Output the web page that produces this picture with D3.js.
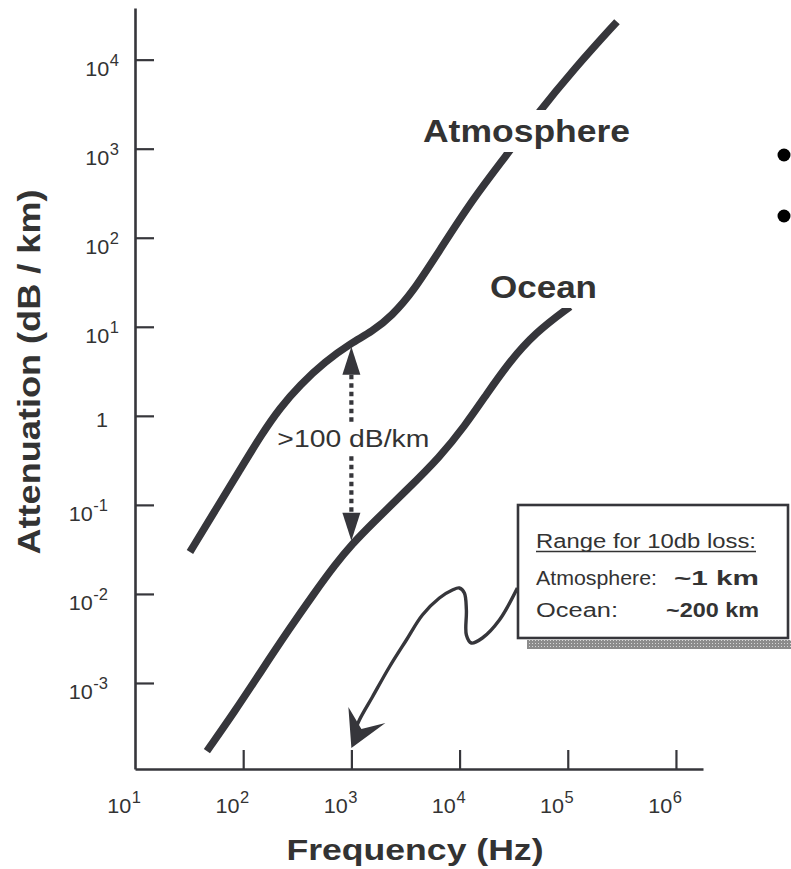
<!DOCTYPE html>
<html>
<head>
<meta charset="utf-8">
<script src="https://cdn.jsdelivr.net/npm/d3@7"></script>
<style>
  html, body { margin: 0; padding: 0; background: #fff; }
  svg { display: block; }
  text { font-family: "Liberation Sans", Arial, Helvetica, sans-serif; fill: #333; }
</style>
</head>
<body>
<svg id="chart" width="791" height="869"></svg>
<script>
// Axis ticks, written as powers of ten
const freqTickExps = [1, 2, 3, 4, 5, 6];
const attenTickExps = [-3, -2, -1, 0, 1, 2, 3, 4];

// Atmosphere: frequency (Hz) and attenuation (dB/km)
const atmosFreq  = [32.2, 54.8, 93.3, 149, 219, 335, 570, 1000, 1550, 2370, 3710, 6590, 13300, 27400, 49800, 117000, 285000];
const atmosAtten = [0.0296, 0.0857, 0.247, 0.628, 1.23, 2.23, 4.05, 6.6, 8.79, 13.3, 24.7, 73.3, 274, 857, 2290, 8130, 26700];

// Ocean: frequency (Hz) and attenuation (dB/km)
const oceanFreq  = [46.2, 84.0, 149, 259, 461, 705, 1000, 1580, 3270, 6590, 11200, 17900, 28000, 49800, 105000];
const oceanAtten = [0.000172, 0.000484, 0.00140, 0.00384, 0.0105, 0.0212, 0.0356, 0.0628, 0.148, 0.346, 0.773, 1.77, 3.84, 8.57, 16.8];

const seriesNames = ["Atmosphere", "Ocean"];
const gapFreq = 1000;
const gapLabel = ">100 dB/km";
const noteTitle = "Range for 10db loss:";
const noteRows = [["Atmosphere:", "~1 km"], ["Ocean:", "~200 km"]];
const xTitle = "Frequency (Hz)";
const yTitle = "Attenuation (dB / km)";

const ink = "#36363b";
const svg = d3.select("#chart");

// Log scales: the frame runs from 10 Hz past 10^6 Hz, and ~10^-4 to ~10^4.6 dB/km
const x = d3.scaleLog().domain([10, Math.pow(10, 6.25)]).range([135, 703]);
const y = d3.scaleLog().domain([Math.pow(10, -3.966), Math.pow(10, 4.58)]).range([769, 8]);
const x0 = x.range()[0], yBase = y.range()[0];

// Shadow pattern for the note box
const defs = svg.append("defs");
const pat = defs.append("pattern").attr("id", "dither").attr("width", 3).attr("height", 3)
  .attr("patternUnits", "userSpaceOnUse");
pat.append("rect").attr("width", 3).attr("height", 3).attr("fill", "#8c8c8c");
pat.append("rect").attr("x", 1).attr("y", 1).attr("width", 1).attr("height", 1).attr("fill", "#d8d8d8");

// Axes with inward ticks
const axisStyle = g => {
  g.select(".domain").attr("stroke", ink).attr("stroke-width", 2.6);
  g.selectAll(".tick line").attr("stroke", ink).attr("stroke-width", 2.2);
};
svg.append("g")
  .attr("transform", `translate(0,${yBase})`)
  .call(d3.axisBottom(x).tickValues(freqTickExps.slice(1).map(e => Math.pow(10, e)))
    .tickSizeInner(-19).tickSizeOuter(0).tickFormat(""))
  .call(axisStyle);
svg.append("g")
  .attr("transform", `translate(${x0},0)`)
  .call(d3.axisLeft(y).tickValues(attenTickExps.map(e => Math.pow(10, e)))
    .tickSizeInner(-19).tickSizeOuter(0).tickFormat(""))
  .call(axisStyle);

// Power-of-ten label with a raised exponent
function powerLabel(g, exp) {
  const t = g.append("text").attr("text-anchor", "end").attr("font-size", 21);
  if (exp === 0) { t.text("1"); return; }
  t.append("tspan").text("10");
  t.append("tspan").attr("font-size", 16).attr("dy", -10).attr("dx", 0.5).text(String(exp));
}

attenTickExps.forEach(e => {
  const ax = e > 0 ? 119 : 108;
  const ay = y(Math.pow(10, e)) + (e === 0 ? 11 : 16);
  const g = svg.append("g").attr("transform", `translate(${ax},${ay}) scale(1.03,1)`);
  powerLabel(g, e);
});
freqTickExps.forEach(e => {
  const g = svg.append("g").attr("transform", `translate(${x(Math.pow(10, e)) + 6},813) scale(1.03,1)`);
  powerLabel(g, e);
});

// Axis titles
svg.append("text")
  .attr("x", 415).attr("y", 860).attr("text-anchor", "middle")
  .attr("font-size", 30).attr("font-weight", "bold")
  .attr("textLength", 257).attr("lengthAdjust", "spacingAndGlyphs")
  .text(xTitle);
svg.append("text")
  .attr("transform", "translate(40,372) rotate(-90)")
  .attr("text-anchor", "middle")
  .attr("font-size", 32).attr("font-weight", "bold")
  .attr("textLength", 365).attr("lengthAdjust", "spacingAndGlyphs")
  .text(yTitle);

// Curves
const line = d3.line().x(d => x(d[0])).y(d => y(d[1])).curve(d3.curveBasis);
const series = [
  { name: seriesNames[0], pts: d3.zip(atmosFreq, atmosAtten) },
  { name: seriesNames[1], pts: d3.zip(oceanFreq, oceanAtten) }
];
svg.append("g").selectAll("path").data(series).join("path")
  .attr("d", d => line(d.pts))
  .attr("fill", "none").attr("stroke", ink).attr("stroke-width", 7.5)
  .attr("stroke-linecap", "butt").attr("stroke-linejoin", "round");

// Curve labels (the Atmosphere label sits on a white patch that breaks the line)
function curveLabel(txt, lx, ly, len) {
  const g = svg.append("g");
  const bg = g.append("rect").attr("fill", "#fff");
  const t = g.append("text").attr("x", lx).attr("y", ly)
    .attr("font-size", 32).attr("font-weight", "bold")
    .attr("textLength", len).attr("lengthAdjust", "spacingAndGlyphs").text(txt);
  const b = t.node().getBBox();
  bg.attr("x", b.x - 2).attr("y", b.y - 3).attr("width", b.width + 4).attr("height", b.height + 6);
}
curveLabel(seriesNames[0], 423, 142, 207);
curveLabel(seriesNames[1], 490, 298, 107);

// Gap arrow between the two curves at 1 kHz
const gi = atmosFreq.indexOf(gapFreq), oi = oceanFreq.indexOf(gapFreq);
const gx = x(gapFreq);
const yTop = y(atmosAtten[gi]) + 4;
const yBot = y(oceanAtten[oi]) - 4;
const headH = 28, headW = 9;
const gapG = svg.append("g").attr("fill", ink);
gapG.append("path").attr("d", `M${gx},${yTop} L${gx + headW},${yTop + headH} L${gx - headW},${yTop + headH} Z`);
gapG.append("path").attr("d", `M${gx},${yBot} L${gx + headW},${yBot - headH} L${gx - headW},${yBot - headH} Z`);
const midY = (yTop + yBot) / 2;
const lbl = svg.append("text").attr("x", gx + 2).attr("y", midY + 3.5)
  .attr("text-anchor", "middle").attr("font-size", 23)
  .attr("textLength", 152).attr("lengthAdjust", "spacingAndGlyphs").text(gapLabel);
const lb = lbl.node().getBBox();
[[yTop + headH, lb.y - 3], [lb.y + lb.height + 4, yBot - headH]].forEach(([a, b]) => {
  gapG.append("line").attr("x1", gx).attr("x2", gx).attr("y1", a).attr("y2", b)
    .attr("stroke", ink).attr("stroke-width", 4.2).attr("stroke-dasharray", "4.5 4");
});

// Note box with a dithered drop shadow
const box = { x: 518, y: 505, w: 270, h: 133 };
svg.append("rect").attr("x", box.x + 9).attr("y", box.y + box.h + 2)
  .attr("width", 791 - box.x - 9).attr("height", 9).attr("fill", "url(#dither)");
svg.append("rect").attr("x", box.x).attr("y", box.y).attr("width", box.w).attr("height", box.h)
  .attr("fill", "#fff").attr("stroke", ink).attr("stroke-width", 2.6);
svg.append("text").attr("x", 536).attr("y", 548).attr("font-size", 20)
  .attr("textLength", 220).attr("lengthAdjust", "spacingAndGlyphs").text(noteTitle);
svg.append("line").attr("x1", 536).attr("x2", 756).attr("y1", 551.5).attr("y2", 551.5)
  .attr("stroke", "#333").attr("stroke-width", 1.4);
const rowLens = [[121, 85], [82, 93]];
noteRows.forEach((r, i) => {
  const by = 585 + i * 32;
  svg.append("text").attr("x", 536).attr("y", by).attr("font-size", 20)
    .attr("textLength", rowLens[i][0]).attr("lengthAdjust", "spacingAndGlyphs").text(r[0]);
  svg.append("text").attr("x", 759).attr("y", by).attr("text-anchor", "end")
    .attr("font-size", 20).attr("font-weight", "bold")
    .attr("textLength", rowLens[i][1]).attr("lengthAdjust", "spacingAndGlyphs").text(r[1]);
});

// Curly pointer from the note box down to the 1 kHz tick
const tipX = x(gapFreq), tipY = yBase - 22;
const curl = [[166, -159], [148, -127], [131, -109], [120, -104], [115, -112], [115, -137],
  [113, -154], [108, -159], [101, -157], [88, -149], [71, -132], [55, -107], [38, -80],
  [21, -50], [8, -27], [2, -12]].map(([dx, dy]) => [tipX + dx, tipY + dy]);
svg.append("path")
  .attr("d", d3.line().curve(d3.curveCatmullRom.alpha(0.5))(curl))
  .attr("fill", "none").attr("stroke", ink).attr("stroke-width", 3.4);
const head = [[0, 1], [-3, -40], [10, -18], [34, -24]].map(([dx, dy]) => [tipX + dx, tipY + dy]);
svg.append("path").attr("d", "M" + head.join("L") + "Z").attr("fill", ink);

// Bullet marks at the right edge
svg.append("g").selectAll("circle").data([155, 216]).join("circle")
  .attr("cx", 784).attr("cy", d => d).attr("r", 6.5).attr("fill", "#000");
</script>
</body>
</html>
